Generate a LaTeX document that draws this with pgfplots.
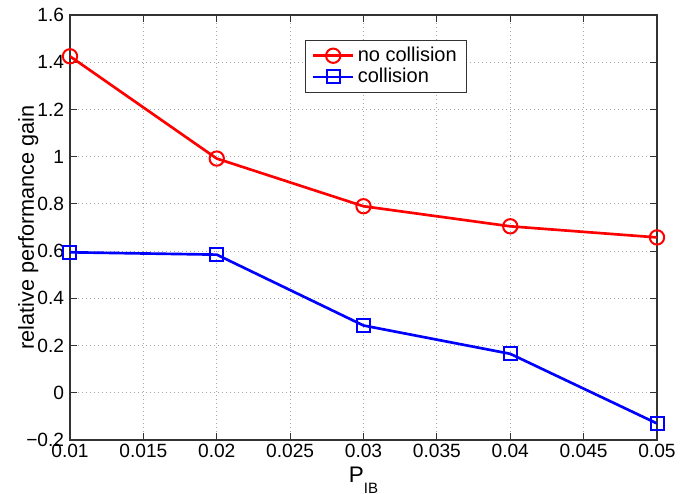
\documentclass[border=0pt]{standalone}
\usepackage{pgfplots}
\pgfplotsset{compat=1.18}
\usepackage{fontspec}
\setmainfont{Liberation Sans}
\usetikzlibrary{calc}
\begin{document}
\begin{tikzpicture}
\begin{axis}[
  scale only axis,
  width=352.2pt, height=255pt,
  xmin=0.01, xmax=0.05, ymin=-0.2, ymax=1.6,
  scaled x ticks=false,
  xtick={0.01,0.015,0.02,0.025,0.03,0.035,0.04,0.045,0.05},
  xticklabels={0.01,0.015,0.02,0.025,0.03,0.035,0.04,0.045,0.05},
  ytick={-0.2,0,0.2,0.4,0.6,0.8,1,1.2,1.4,1.6},
  yticklabels={−0.2,0,0.2,0.4,0.6,0.8,1,1.2,1.4,1.6},
  tick align=inside,
  tick pos=both,
  major tick length=4pt,
  grid=major,
  major grid style={gray!70, dotted, line width=0.5pt},
  axis line style={black!80, line width=0.8pt},
  tick style={black!80, line width=0.6pt},
  ticklabel style={font=\fontsize{11.5}{13}\selectfont},
  xticklabel style={yshift=1pt},
  xlabel={P\raisebox{-0.9ex}{\fontsize{9}{10}\selectfont IB}},
  xlabel style={at={(rel axis cs:0.5,0)}, anchor=north, inner sep=0pt, yshift=-16pt, font=\fontsize{13.5}{15}\selectfont},
  ylabel={relative performance gain},
  ylabel style={at={(rel axis cs:0,0.5)}, anchor=center, yshift=25pt, font=\fontsize{13}{15}\selectfont},
  legend style={at={(rel axis cs:0.400,0.941)}, anchor=north west,
    draw=black!80, line width=0.6pt, font=\fontsize{12}{14}\selectfont,
    row sep=-1.5pt, inner xsep=4pt, inner ysep=2pt,
    /tikz/every even column/.append style={column sep=3pt}},
  legend cell align=left,
  legend image code/.code={\draw[mark repeat=2,mark phase=2,#1] plot coordinates {(0cm,0cm) (0.42cm,0cm) (0.84cm,0cm)};},
]
\addplot[red, line width=1.6pt, mark=o, mark size=4.3pt, mark options={solid, line width=1.2pt}]
  coordinates {(0.01,1.425) (0.02,0.992) (0.03,0.79) (0.04,0.705) (0.05,0.658)};
\addlegendentry{no collision}
\addplot[blue, line width=1.6pt, mark=square, mark size=3.9pt, mark options={solid, line width=1.2pt}]
  coordinates {(0.01,0.595) (0.02,0.585) (0.03,0.285) (0.04,0.165) (0.05,-0.13)};
\addlegendentry{collision}
\end{axis}
\pgfresetboundingbox
\path ($(current axis.south west)+(-42pt,-32.4pt)$) rectangle ($(current axis.north east)+(17.4pt,9pt)$);
\end{tikzpicture}
\end{document}
